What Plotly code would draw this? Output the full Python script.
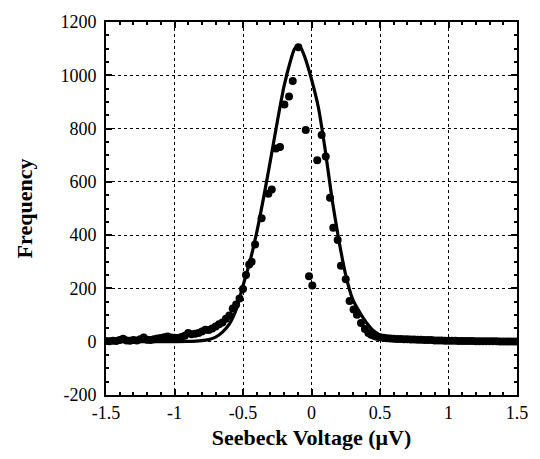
import plotly.graph_objects as go

# Measured histogram (dots)
dot_x = [
    -1.500, -1.475, -1.450, -1.425, -1.400, -1.375, -1.350, -1.325, -1.300, -1.275,
    -1.250, -1.225, -1.200, -1.175, -1.150, -1.125, -1.100, -1.075, -1.050, -1.025,
    -1.000, -0.975, -0.950, -0.925, -0.900, -0.875, -0.850, -0.825, -0.800, -0.775,
    -0.750, -0.725, -0.700, -0.675, -0.650, -0.625, -0.600, -0.575, -0.550, -0.525,
    -0.500, -0.478, -0.455, -0.437, -0.412, -0.364, -0.315, -0.290, -0.259, -0.230,
    -0.198, -0.164, -0.137, -0.096, -0.042, -0.018, 0.006, 0.042, 0.074, 0.104,
    0.135, 0.159, 0.191, 0.215, 0.250, 0.278, 0.307, 0.332, 0.361, 0.390,
    0.415, 0.435, 0.455, 0.475, 0.500, 0.525, 0.550, 0.575, 0.600, 0.625,
    0.650, 0.675, 0.700, 0.725, 0.750, 0.775, 0.800, 0.825, 0.850, 0.875,
    0.900, 0.925, 0.950, 0.975, 1.000, 1.025, 1.050, 1.075, 1.100, 1.125,
    1.150, 1.175, 1.200, 1.225, 1.250, 1.275, 1.300, 1.325, 1.350, 1.375,
    1.400, 1.425, 1.450, 1.475, 1.500,
]
dot_y = [
    3, 2, 4, 3, 6, 11, 5, 4, 6, 5,
    9, 16, 7, 6, 9, 12, 14, 17, 20, 16,
    15, 14, 18, 22, 33, 28, 30, 33, 38, 45,
    44, 50, 57, 66, 72, 86, 98, 125, 140, 162,
    198, 250, 290, 300, 365, 463, 555, 571, 725, 731,
    890, 920, 979, 1105, 795, 246, 211, 681, 776, 695,
    540, 428, 382, 285, 234, 153, 121, 101, 70, 48,
    33, 26, 22, 19, 17, 15, 13, 12, 11, 10,
    10, 9, 9, 8, 8, 7, 7, 6, 6, 6,
    5, 5, 5, 4, 4, 4, 4, 3, 3, 3,
    3, 3, 2, 2, 2, 2, 2, 2, 2, 1,
    1, 1, 1, 1, 1,
]

# Fitted curve (solid line)
fit_x = [
    -1.50, -1.00, -0.90, -0.80, -0.75, -0.70, -0.65, -0.60, -0.55, -0.50,
    -0.45, -0.40, -0.35, -0.30, -0.25, -0.20, -0.15, -0.125, -0.10, -0.075,
    -0.05, 0.00, 0.05, 0.10, 0.15, 0.20, 0.25, 0.30, 0.35, 0.40,
    0.45, 0.50, 0.55, 0.60, 0.70, 0.80, 1.00, 1.50,
]
fit_y = [
    0, 0.5, 1, 4, 8, 17, 36, 66, 120, 210,
    300, 410, 540, 680, 825, 960, 1060, 1098, 1110, 1100,
    1070, 985, 880, 720, 535, 380, 250, 160, 112, 72,
    42, 25, 15, 10, 6, 4, 2, 0,
]

x_ticks = [-1.5, -1, -0.5, 0, 0.5, 1, 1.5]
x_tick_text = ["-1.5", "-1", "-0.5", "0", "0.5", "1", "1.5"]
y_ticks = [-200, 0, 200, 400, 600, 800, 1000, 1200]
y_tick_text = ["-200", "0", "200", "400", "600", "800", "1000", "1200"]

fig = go.Figure()
fig.add_trace(go.Scatter(
    x=dot_x, y=dot_y, mode="markers",
    marker=dict(color="black", size=8),
    showlegend=False,
))
fig.add_trace(go.Scatter(
    x=fit_x, y=fit_y, mode="lines",
    line=dict(color="black", width=3.2, shape="spline", smoothing=0.6),
    showlegend=False,
))

font_family = "Liberation Serif, Times New Roman, serif"
axis_common = dict(
    showline=True, linecolor="black", linewidth=2, mirror="allticks",
    ticks="inside", ticklen=6, tickwidth=1.5, tickcolor="black",
    showgrid=True, gridcolor="black", gridwidth=1, griddash="dot",
    zeroline=False,
    tickfont=dict(family=font_family, size=18, color="black"),
)

fig.update_xaxes(
    range=[-1.5, 1.5], tickvals=x_ticks, ticktext=x_tick_text,
    minor=dict(ticks="inside", dtick=0.1, ticklen=3, tickcolor="black", showgrid=False),
    title=dict(text="<b>Seebeck Voltage (μV)</b>",
               font=dict(family=font_family, size=22, color="black"), standoff=8),
    **axis_common,
)
fig.update_yaxes(
    range=[-200, 1200], tickvals=y_ticks, ticktext=y_tick_text,
    ticklabelstandoff=4,
    minor=dict(ticks="inside", dtick=50, ticklen=3, tickcolor="black", showgrid=False),
    title=dict(text="<b>Frequency</b>",
               font=dict(family=font_family, size=22, color="black"), standoff=22),
    **axis_common,
)

fig.update_layout(
    width=540, height=459,
    margin=dict(l=106, r=23, t=15, b=64),
    paper_bgcolor="white", plot_bgcolor="white",
    font=dict(family=font_family, color="black"),
)

fig.write_html("out.html")
